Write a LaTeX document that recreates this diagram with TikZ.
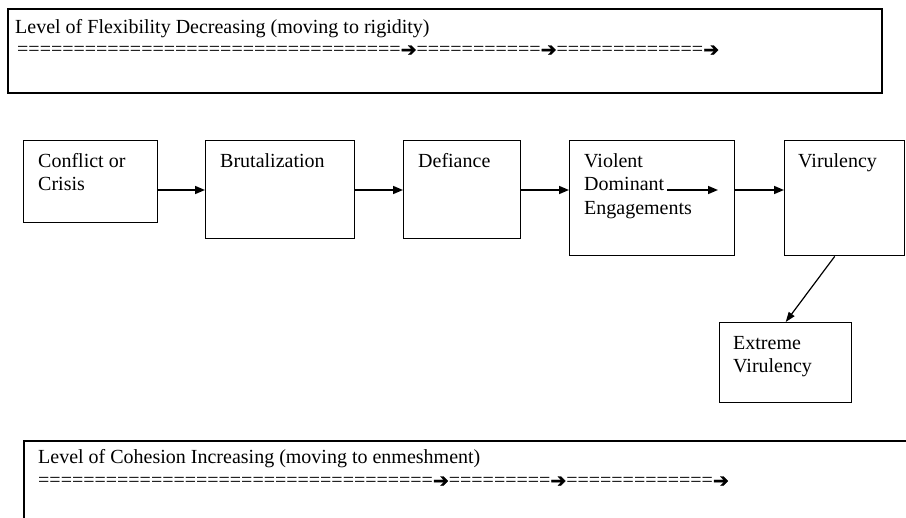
\documentclass[tikz,border=0pt]{standalone}
\usepackage{fontspec}
\setmainfont{Liberation Serif}
\newfontfamily\symfont[FakeBold=1.5]{DejaVu Sans}
\usetikzlibrary{arrows.meta,calc}
\newcommand\eqrun[1]{\foreach\k in {1,...,#1}{=}}
\newcommand\harr{{\symfont\fontsize{19}{20}\selectfont ➔}}
\begin{document}
\begin{tikzpicture}[x=1pt,y=-1pt,
  font=\fontsize{20}{23.5}\selectfont,
  frame/.style={draw, line width=1.8pt, anchor=north west, inner sep=0pt},
  stage/.style={draw, line width=1.4pt, anchor=north west, inner sep=0pt},
  txt/.style={anchor=north west, inner sep=0pt, align=left},
  line/.style={anchor=base west, inner sep=0pt},
  flow/.style={line width=1.6pt, -{Triangle[length=10pt,width=8pt]}},
  slant/.style={line width=1.2pt, -{Triangle[length=10pt,width=7pt]}},
]
\useasboundingbox (0,0) rectangle (906,518);
\fill[white] (0,0) rectangle (906,518);

% top frame
\node[frame, minimum width=874pt, minimum height=84pt] (topbox) at (7,8) {};
\node[line] (toptext) at (15,34) {Level of Flexibility Decreasing (moving to rigidity)};
\node[line] (topeq) at (17,56) {\eqrun{34}\harr\eqrun{11}\harr\eqrun{13}\harr};

% stages
\node[stage, minimum width=134pt, minimum height=82pt]  (b1) at (23,140) {};
\node[stage, minimum width=149pt, minimum height=98pt]  (b2) at (205,140) {};
\node[stage, minimum width=117pt, minimum height=98pt]  (b3) at (403,140) {};
\node[stage, minimum width=165pt, minimum height=115pt] (b4) at (569,140) {};
\node[stage, minimum width=120pt, minimum height=115pt] (b5) at (784,140) {};
\node[stage, minimum width=132pt, minimum height=80pt]  (b6) at (719,322) {};

\node[txt] (t1) at (38,153)  {Conflict or\\Crisis};
\node[txt] (t2) at (220,153) {Brutalization};
\node[txt] (t3) at (418,153) {Defiance};
\node[txt] (t4) at (584,153) {Violent\\Dominant\\Engagements};
\node[txt] (t5) at (798,153) {Virulency};
\node[txt] (t6) at (733,336) {Extreme\\Virulency};

% connectors
\coordinate (row) at (0,190);
\draw[flow] (b1.east |- row) -- (b2.west |- row);
\draw[flow] (b2.east |- row) -- (b3.west |- row);
\draw[flow] (b3.east |- row) -- (b4.west |- row);
\draw[flow] (b4.east |- row) -- (b5.west |- row);
\coordinate (inA) at (667,190);
\coordinate (inB) at (718,190);
\draw[flow] (inA) -- (inB);
\draw[slant] ($(b5.south)+(-10,0)$) -- (b6.north);

% bottom frame
\node[frame, minimum width=900pt, minimum height=120pt] (botbox) at (23,440) {};
\node[line] (bottext) at (38,464) {Level of Cohesion Increasing (moving to enmeshment)};
\node[line] (boteq) at (38,487) {\eqrun{35}\harr\eqrun{9}\harr\eqrun{13}\harr};
\end{tikzpicture}
\end{document}
